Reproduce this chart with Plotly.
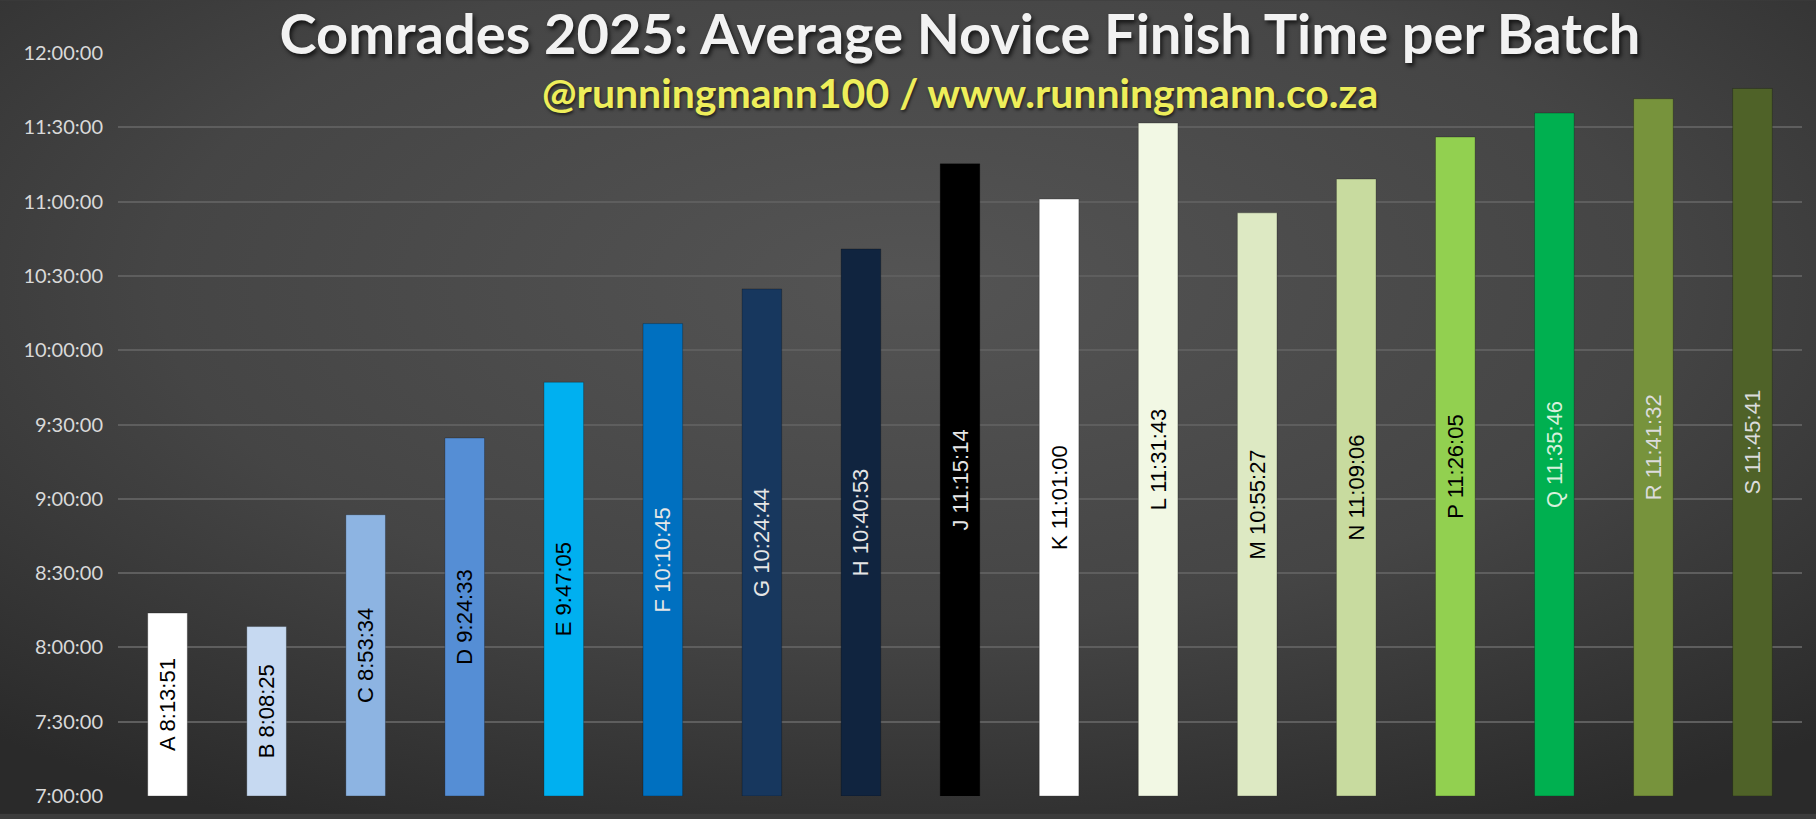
import base64
import plotly.graph_objects as go

# average novice finish time per start batch (h:mm:ss)
batches = ["A", "B", "C", "D", "E", "F", "G", "H", "J",
           "K", "L", "M", "N", "P", "Q", "R", "S"]
finish_times = ["8:13:51", "8:08:25", "8:53:34", "9:24:33", "9:47:05",
                "10:10:45", "10:24:44", "10:40:53", "11:15:14", "11:01:00",
                "11:31:43", "10:55:27", "11:09:06", "11:26:05", "11:35:46",
                "11:41:32", "11:45:41"]
bar_colors = ["#FFFFFF", "#C6D9F1", "#8DB4E2", "#558ED5", "#00B0F0",
              "#0070C0", "#17375E", "#10243F", "#000000", "#FFFFFF",
              "#F2F8E4", "#DDE9C3", "#C8DB9F", "#92D050", "#00B050",
              "#77933C", "#4F6228"]
label_colors = ["#000000", "#000000", "#000000", "#000000", "#000000",
                "#E6E6E6", "#E6E6E6", "#E6E6E6", "#E6E6E6", "#000000",
                "#000000", "#000000", "#000000", "#000000", "#D8F0DC",
                "#DCDCDC", "#DCDCDC"]
tick_hours = [7, 7.5, 8, 8.5, 9, 9.5, 10, 10.5, 11, 11.5, 12]
tick_text = ["7:00:00", "7:30:00", "8:00:00", "8:30:00", "9:00:00", "9:30:00",
             "10:00:00", "10:30:00", "11:00:00", "11:30:00", "12:00:00"]


def to_hours(t):
    h, m, s = [int(p) for p in t.split(":")]
    return h + m / 60 + s / 3600


BASE = 7
hours = [to_hours(t) for t in finish_times]
labels = [b + " " + t for b, t in zip(batches, finish_times)]

W, H = 1816, 819
L, R, T, B = 118, 14, 53, 18
pw, ph = W - L - R, H - T - B

fig = go.Figure(go.Bar(
    x=batches,
    y=[h - BASE for h in hours],
    base=BASE,
    marker=dict(color=bar_colors, line=dict(color="rgba(0,0,0,0.25)", width=1)),
    text=labels,
    textposition="inside",
    insidetextanchor="middle",
    textangle=-90,
    constraintext="none",
    textfont=dict(family="Liberation Sans, Arial, sans-serif", size=22, color=label_colors),
    hovertemplate="%{text}<extra></extra>",
))

# soft radial background like the original
svg = ('<svg xmlns="http://www.w3.org/2000/svg" width="1816" height="819">'
       '<defs><radialGradient id="g" cx="0.5" cy="0.35" r="0.75">'
       '<stop offset="0" stop-color="#545454"/>'
       '<stop offset="0.55" stop-color="#454545"/>'
       '<stop offset="1" stop-color="#2a2a2a"/>'
       '</radialGradient></defs>'
       '<rect width="1816" height="819" fill="url(#g)"/></svg>')
src = "data:image/svg+xml;base64," + base64.b64encode(svg.encode()).decode()

fig.update_layout(
    width=W, height=H,
    margin=dict(l=L, r=R, t=T, b=B),
    paper_bgcolor="#3c3c3c",
    plot_bgcolor="rgba(0,0,0,0)",
    bargap=0.6,
    showlegend=False,
    images=[dict(source=src, xref="paper", yref="paper",
                 x=-L / pw, y=1 + T / ph, sizex=W / pw, sizey=H / ph,
                 xanchor="left", yanchor="top", sizing="stretch", layer="below")],
    title=dict(text="<b>Comrades 2025: Average Novice Finish Time per Batch</b>",
               x=0.5, xref="paper", xanchor="center",
               y=1 - 34 / H, yref="container", yanchor="middle",
               font=dict(family="Lato, sans-serif", size=56, color="#F2F2F2",
                         shadow="2px 3px 4px rgba(0,0,0,0.7)")),
    annotations=[dict(text="<b>@runningmann100 / www.runningmann.co.za</b>",
                      x=0.5, xref="paper", xanchor="center",
                      y=1 + (T - 93) / ph, yref="paper", yanchor="middle",
                      showarrow=False,
                      font=dict(family="Lato, sans-serif", size=41, color="#EEEE5A",
                                shadow="1px 2px 3px rgba(0,0,0,0.6)"))],
)
fig.update_xaxes(showticklabels=False, showgrid=False, zeroline=False,
                 showline=False, ticks="", fixedrange=True)
fig.update_yaxes(range=[7, 12], tickvals=tick_hours, ticktext=tick_text,
                 showgrid=True, gridcolor="#5E5E5E", gridwidth=1.5,
                 zeroline=False, showline=False, ticks="",
                 ticklabelstandoff=14,
                 tickfont=dict(family="Lato, sans-serif", size=20, color="#D9D9D9"))

fig.write_html("out.html", config={"displayModeBar": False},
               post_script="document.body.style.margin='0';document.body.style.overflow='hidden';")
